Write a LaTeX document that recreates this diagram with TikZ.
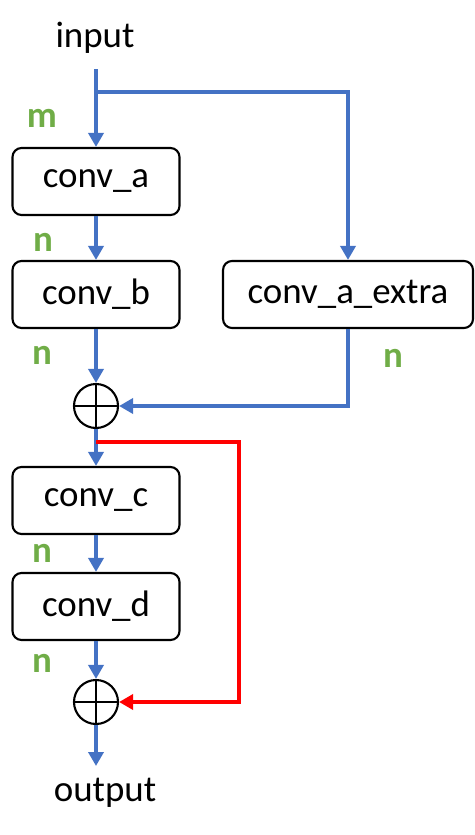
\documentclass[tikz,border=0pt]{standalone}
\usepackage{fontspec}
\setmainfont{Carlito}
\usetikzlibrary{arrows.meta}
\definecolor{flowblue}{HTML}{4472C4}
\definecolor{lblgreen}{HTML}{70AD47}
\definecolor{skipred}{HTML}{FF0000}
\begin{document}
\begin{tikzpicture}[x=0.02cm,y=-0.02cm,
  every node/.style={font=\fontsize{21}{25}\selectfont},
  box/.style={draw, line width=1.2pt, rounded corners=0.18cm, minimum height=1.34cm, minimum width=3.34cm, inner sep=0pt},
  sum/.style={draw, circle, line width=1.2pt, minimum size=0.88cm, inner sep=0pt,
    path picture={\draw[line width=1.2pt] (path picture bounding box.north) -- (path picture bounding box.south)
      (path picture bounding box.west) -- (path picture bounding box.east);}},
  lbl/.style={text=lblgreen, font=\fontsize{21}{25}\selectfont\bfseries},
  flow/.style={draw=flowblue, line width=2.6pt, -{Triangle[length=0.28cm,width=0.3cm]}},
  skip/.style={draw=skipred, line width=2.6pt, -{Triangle[length=0.28cm,width=0.3cm]}}]
\useasboundingbox (0,0) rectangle (474,835);
\node (in) at (95,38) {input};
\node (out) at (105,793) {output};
\node[box] (a) at (96,181.5) {conv\_a};
\node[box] (b) at (96,294.5) {conv\_b};
\node[box, minimum width=5cm] (ax) at (348,294.5) {conv\_a\_extra};
\node[sum] (s1) at (96,406) {};
\node[box] (c) at (96,500.5) {conv\_c};
\node[box] (d) at (96,606.5) {conv\_d};
\node[sum] (s2) at (96,702) {};
\coordinate (top) at (96,69);
\coordinate (split) at (96,92);
\coordinate (fork) at (96,442);
\coordinate (redr) at (239,442);
\coordinate (bot) at (96,766);
\draw[flow] (top) -- (a.north);
\draw[flow] (split) -| (ax.north);
\draw[flow] (a) -- (b);
\draw[flow] (b) -- (s1);
\draw[flow] (ax.south) |- (s1.east);
\draw[flow] (s1) -- (c);
\draw[flow] (c) -- (d);
\draw[flow] (d) -- (s2);
\draw[flow] (s2) -- (bot);
\draw[skip] (fork) -- (redr) |- (s2.east);
\node[lbl] (m1) at (42,118) {m};
\node[lbl] (n1) at (43,242) {n};
\node[lbl] (n2) at (42,355) {n};
\node[lbl] (n3) at (393,358) {n};
\node[lbl] (n4) at (42,553) {n};
\node[lbl] (n5) at (42,663) {n};
\end{tikzpicture}
\end{document}
